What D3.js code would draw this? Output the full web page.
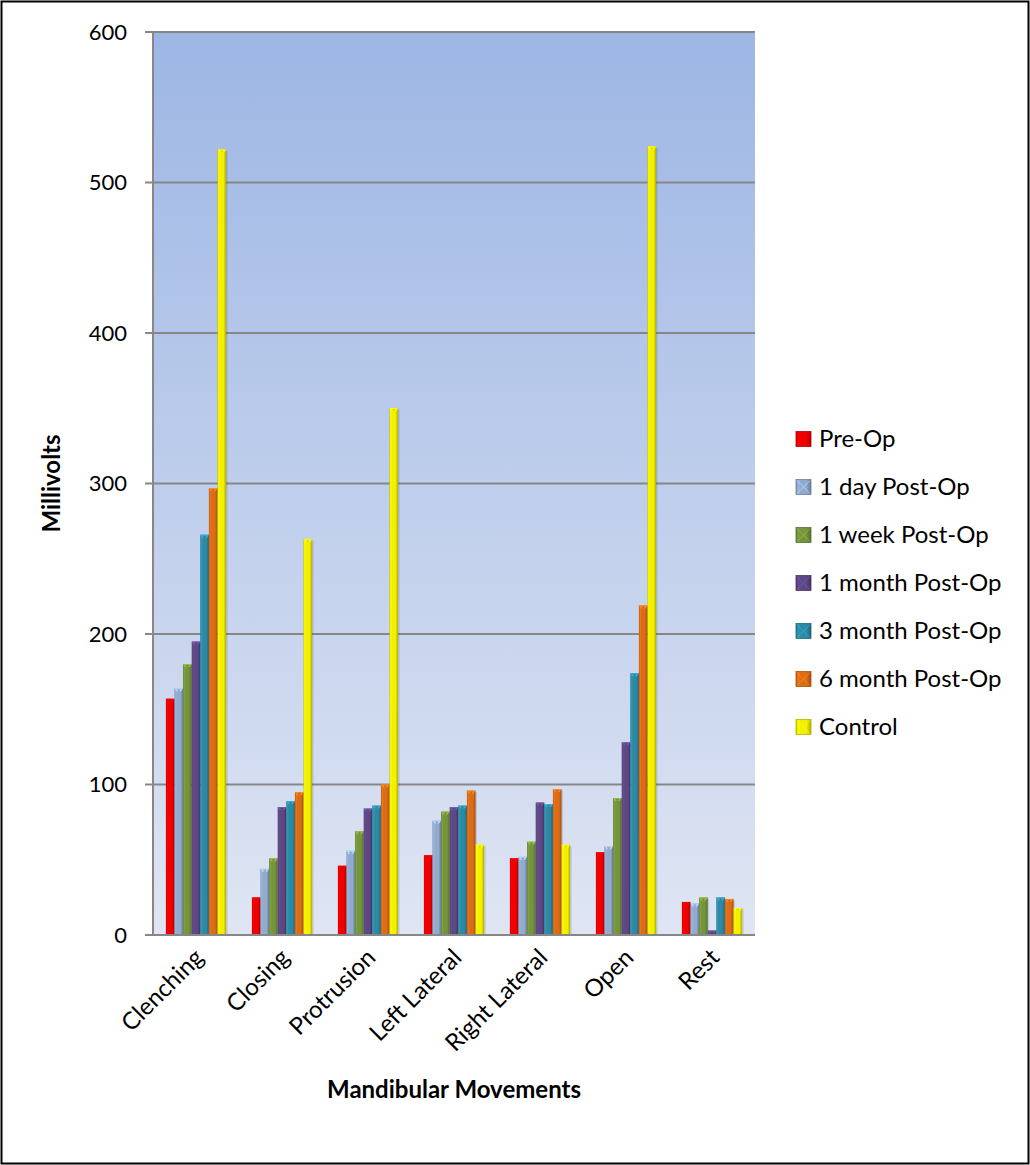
<!DOCTYPE html>
<html>
<head>
<meta charset="utf-8">
<script src="https://cdn.jsdelivr.net/npm/d3@7"></script>
<style>
  html, body { margin: 0; padding: 0; background: #fff; }
  svg { display: block; font-family: Lato, "Open Sans", "Liberation Sans", sans-serif; }
</style>
</head>
<body>
<svg id="chart" width="1030" height="1165"></svg>
<script>
// Mandibular movement categories
const categories = ["Clenching", "Closing", "Protrusion", "Left Lateral", "Right Lateral", "Open", "Rest"];

// Series names (one bar per time point per movement)
const seriesNames = ["Pre-Op", "1 day Post-Op", "1 week Post-Op", "1 month Post-Op",
                     "3 month Post-Op", "6 month Post-Op", "Control"];

// EMG amplitude in millivolts, one array per series, ordered as the categories
const preOp      = [157, 25, 46, 53, 51, 55, 22];
const day1       = [164, 44, 56, 76, 52, 59, 21];
const week1      = [180, 51, 69, 82, 62, 91, 25];
const month1     = [195, 85, 84, 85, 88, 128, 3];
const month3     = [266, 89, 86, 86, 87, 174, 25];
const month6     = [297, 95, 100, 96, 97, 219, 24];
const control    = [522, 263, 350, 60, 60, 524, 18];

const yTicks = [0, 100, 200, 300, 400, 500, 600];

const seriesValues = [preOp, day1, week1, month1, month3, month6, control];
const seriesColors = ["#F00000", "#90AAD0", "#74953A", "#5E4785", "#2B8AA6", "#DE6C16", "#F2F000"];

const svg = d3.select("#chart");
const W = 1030, H = 1165;

// outer frame
svg.append("rect").attr("x", 1.5).attr("y", 1.5).attr("width", W - 3).attr("height", H - 3)
  .attr("fill", "#fff").attr("stroke", "#000").attr("stroke-width", 2);

const plot = { left: 153, right: 755, top: 32, bottom: 935 };

const defs = svg.append("defs");

// plot background gradient
const bg = defs.append("linearGradient").attr("id", "plotBg")
  .attr("x1", 0).attr("y1", 0).attr("x2", 0).attr("y2", 1);
bg.append("stop").attr("offset", "0%").attr("stop-color", "#9DB6E4");
bg.append("stop").attr("offset", "100%").attr("stop-color", "#DFE5F3");

// bevelled bar fills
seriesColors.forEach((c, i) => {
  const g = defs.append("linearGradient").attr("id", "bar" + i)
    .attr("x1", 0).attr("y1", 0).attr("x2", 1).attr("y2", 0);
  const base = d3.color(c);
  g.append("stop").attr("offset", "0%").attr("stop-color", base.darker(0.6));
  g.append("stop").attr("offset", "14%").attr("stop-color", base.brighter(0.25));
  g.append("stop").attr("offset", "30%").attr("stop-color", base);
  g.append("stop").attr("offset", "70%").attr("stop-color", base);
  g.append("stop").attr("offset", "86%").attr("stop-color", base.darker(0.45));
  g.append("stop").attr("offset", "100%").attr("stop-color", base.darker(0.9));
});

const y = d3.scaleLinear().domain([0, 600]).range([plot.bottom, plot.top]);
const x0 = d3.scaleBand().domain(categories).range([plot.left, plot.right])
  .paddingInner(0.3).paddingOuter(0.15);
const x1 = d3.scaleBand().domain(d3.range(seriesNames.length)).range([0, x0.bandwidth()]);

svg.append("rect").attr("x", plot.left).attr("y", plot.top)
  .attr("width", plot.right - plot.left).attr("height", plot.bottom - plot.top)
  .attr("fill", "url(#plotBg)");

// gridlines with outside tick marks
svg.append("g").selectAll("line").data(yTicks).join("line")
  .attr("x1", plot.left - 8).attr("x2", plot.right)
  .attr("y1", d => y(d)).attr("y2", d => y(d))
  .attr("stroke", "#878787").attr("stroke-width", 2);

// y axis line
svg.append("line").attr("x1", plot.left).attr("x2", plot.left)
  .attr("y1", plot.top).attr("y2", plot.bottom)
  .attr("stroke", "#878787").attr("stroke-width", 2);

// y tick labels
svg.append("g").selectAll("text").data(yTicks).join("text")
  .attr("x", plot.left - 26).attr("y", d => y(d)).attr("dy", "0.35em")
  .attr("text-anchor", "end").attr("font-size", 22).attr("fill", "#000")
  .text(d => d);

// bars
const groups = svg.append("g").selectAll("g").data(categories).join("g")
  .attr("transform", d => `translate(${x0(d)},0)`);

groups.each(function(cat, ci) {
  const g = d3.select(this);
  seriesValues.forEach((vals, si) => {
    const v = vals[ci];
    const bx = x1(si), bw = x1.bandwidth();
    const top = y(v), h = y(0) - y(v);
    // soft shadow
    g.append("rect").attr("x", bx + 1.5).attr("y", top + 1.5).attr("width", bw).attr("height", h - 1.5)
      .attr("fill", "#000").attr("opacity", 0.12);
    g.append("rect").attr("x", bx).attr("y", top).attr("width", bw).attr("height", h)
      .attr("fill", `url(#bar${si})`);
    // bevelled top cap
    const cap = Math.min(3, h / 2);
    g.append("path")
      .attr("d", `M${bx},${top}L${bx + bw},${top}L${bx + bw - 2},${top + cap}L${bx + 2},${top + cap}Z`)
      .attr("fill", d3.color(seriesColors[si]).brighter(0.7));
    g.append("path")
      .attr("d", `M${bx + bw / 2 - 2},${top + 1}L${bx + bw / 2 + 2},${top + 1}L${bx + bw / 2},${top + 3.5}Z`)
      .attr("fill", d3.color(seriesColors[si]).darker(0.5)).attr("opacity", 0.7);
  });
});

// x axis line
svg.append("line").attr("x1", plot.left).attr("x2", plot.right)
  .attr("y1", plot.bottom).attr("y2", plot.bottom)
  .attr("stroke", "#878787").attr("stroke-width", 2);

// category labels, rotated
svg.append("g").selectAll("text").data(categories).join("text")
  .attr("transform", d => `translate(${x0(d) + x0.bandwidth() / 2 + 3},${plot.bottom + 18}) rotate(-45)`)
  .attr("text-anchor", "end").attr("dy", "0.35em")
  .attr("font-size", 24).attr("fill", "#000")
  .text(d => d);

// axis titles
svg.append("text")
  .attr("transform", `translate(60,${(plot.top + plot.bottom) / 2}) rotate(-90)`)
  .attr("text-anchor", "middle").attr("font-size", 24).attr("font-weight", "bold")
  .text("Millivolts");

svg.append("text").attr("x", 454).attr("y", 1098)
  .attr("text-anchor", "middle").attr("font-size", 24).attr("font-weight", "bold")
  .text("Mandibular Movements");

// legend
const legend = svg.append("g").attr("transform", "translate(796,439)");
const items = legend.selectAll("g").data(seriesNames).join("g")
  .attr("transform", (d, i) => `translate(0,${i * 48})`);
items.append("rect").attr("x", 0).attr("y", -7.5).attr("width", 15).attr("height", 15)
  .attr("fill", (d, i) => `url(#bar${i})`)
  .attr("stroke", (d, i) => d3.color(seriesColors[i]).darker(0.8)).attr("stroke-width", 0.8);
items.append("path")
  .attr("d", "M1,-6.5L14,6.5M14,-6.5L1,6.5")
  .attr("stroke", (d, i) => d3.color(seriesColors[i]).brighter(0.8)).attr("stroke-width", 1).attr("opacity", 0.7);
items.append("text").attr("x", 23).attr("y", 0).attr("dy", "0.35em")
  .attr("font-size", 24).attr("fill", "#000")
  .text(d => d);
</script>
</body>
</html>
